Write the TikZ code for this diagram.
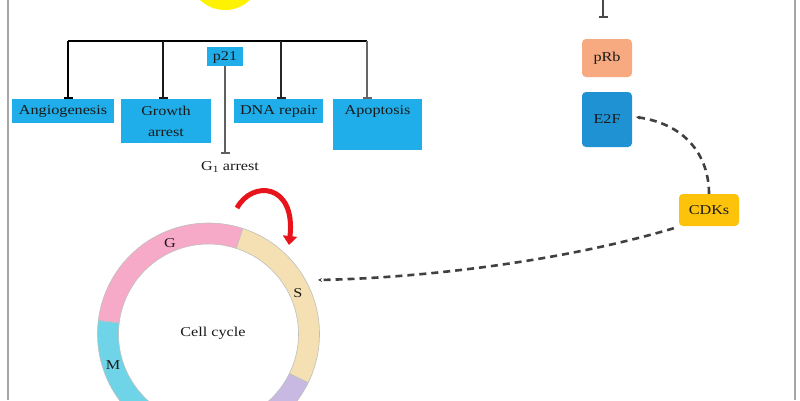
\documentclass[tikz,border=0pt]{standalone}
\usepackage{fontspec}
\setmainfont{Liberation Serif}[FakeStretch=1.2]
\usetikzlibrary{arrows.meta,calc}
\definecolor{boxblue}{HTML}{1FAEE9}
\definecolor{etwof}{HTML}{1E92D3}
\definecolor{prbcol}{HTML}{F7AA80}
\definecolor{cdkcol}{HTML}{FDC20A}
\definecolor{gpink}{HTML}{F7AAC8}
\definecolor{stan}{HTML}{F4E0B2}
\definecolor{mteal}{HTML}{6FD4E8}
\definecolor{lav}{HTML}{C8B9E2}
\definecolor{sunyel}{HTML}{FFF200}
\definecolor{redarr}{HTML}{E8141B}
\definecolor{linegray}{HTML}{4A4A4A}
\begin{document}
\begin{tikzpicture}[x=1pt,y=-1pt,
  bluebox/.style={draw=none,fill=boxblue,inner sep=0pt},
  lbl/.style={inner sep=0pt,font=\fontsize{13.5}{15}\selectfont,text=black!90},
  rbox/.style={draw=none,rounded corners=4pt,inner sep=0pt},
  inhib/.style={draw=linegray,line width=1.4pt,-{Bar[width=9pt,line width=1.6pt]}},
  dashcon/.style={draw=black!75,line width=2.6pt,dash pattern=on 7pt off 5pt},
  smalltip/.style={-{Stealth[length=4pt,width=4pt]}}]
\useasboundingbox (0,0) rectangle (800,400);
% frame lines
\draw[gray!70,line width=1.6pt] (8,0) -- (8,400);
\draw[gray!70,line width=1.6pt] (795,0) -- (795,400);
% yellow circle
\fill[sunyel] (225,-26) circle (36);
% p21 and bracket
\node[bluebox,minimum width=36pt,minimum height=19pt] (p21) at (225,56.5) {};
\node[lbl] (p21t) at (225,57) {p21};
\coordinate (bl) at (68,41);
\coordinate (br) at (367,41);
\draw[black,line width=1.6pt] (bl) -- (br);
% target boxes
\node[bluebox,minimum width=102pt,minimum height=24pt] (ang) at (63,111) {};
\node[bluebox,minimum width=90pt,minimum height=44pt] (gro) at (166,121) {};
\node[bluebox,minimum width=89pt,minimum height=24pt] (dna) at (278.5,111) {};
\node[bluebox,minimum width=89pt,minimum height=51pt] (apo) at (377.5,124.5) {};
\node[lbl] (angt) at (63,111) {Angiogenesis};
\node[lbl,align=center,font=\fontsize{13.5}{21}\selectfont] (grot) at (166,121) {Growth\\arrest};
\node[lbl] (dnat) at (278.5,111) {DNA repair};
\node[lbl] (apot) at (377.5,111) {Apoptosis};
\draw[inhib,draw=black] (bl) -- (ang.north -| bl);
\draw[inhib,draw=black!90] (163,41) -- (gro.north -| 163,0);
\draw[inhib,draw=black!85] (281,41) -- (dna.north -| 281,0);
\draw[inhib,draw=black!60] (br) -- (apo.north -| br);
% p21 to G1 arrest
\coordinate (gend) at (225,154);
\draw[inhib,draw=gray!75!black] (p21.south) -- (gend);
\node[lbl] (g1) at (230,167) {G\textsubscript{1} arrest};
% right column
\coordinate (topin) at (603,0);
\node[rbox,fill=prbcol,minimum width=50pt,minimum height=38pt] (prb) at (607,58) {};
\node[lbl] (prbt) at (607,58) {pRb};
\node[rbox,fill=etwof,minimum width=50pt,minimum height=55pt] (e2f) at (607,119.5) {};
\node[lbl] (e2ft) at (607,119.5) {E2F};
\node[rbox,fill=cdkcol,minimum width=60pt,minimum height=32pt] (cdk) at (709,210) {};
\node[lbl] (cdkt) at (709,210) {CDKs};
\draw[inhib] (topin) -- (603,18);
% cell cycle ring
\def\cx{208.5}\def\cy{334}\def\ro{111}\def\ri{90}
\foreach \a/\b/\c in {72/173/gpink,173/255/mteal,255/334/lav,-26/72/stan}{
  \fill[\c,draw=gray!50,line width=0.6pt] ($(\cx,\cy)+(-\a:\ro)$) arc[start angle=-\a,end angle=-\b,radius=\ro] -- ($(\cx,\cy)+(-\b:\ri)$) arc[start angle=-\b,end angle=-\a,radius=\ri] -- cycle;
}
\node[lbl] (cc) at (213,333) {Cell cycle};
\node[lbl] (gl) at (170,243) {G};
\node[lbl] (sl) at (298,293) {S};
\node[lbl] (ml) at (113,365) {M};
\coordinate (ringin) at (318,280);
% red arrow
\coordinate (ra) at (237,208);
\coordinate (rb) at (289,245);
\draw[redarr,line width=5pt,-{Triangle[length=9pt,width=14pt]}] (ra) .. controls (252,180) and (296,183) .. (rb);
% dashed connectors
\coordinate (e2fin) at (636,117);
\draw[dashcon,smalltip] (cdk.north) .. controls (709,160) and (690,125) .. (e2fin);
\draw[dashcon,smalltip] ($(cdk.south west)+(-5,2)$) .. controls (560,262) and (420,278) .. (ringin);
\end{tikzpicture}
\end{document}
